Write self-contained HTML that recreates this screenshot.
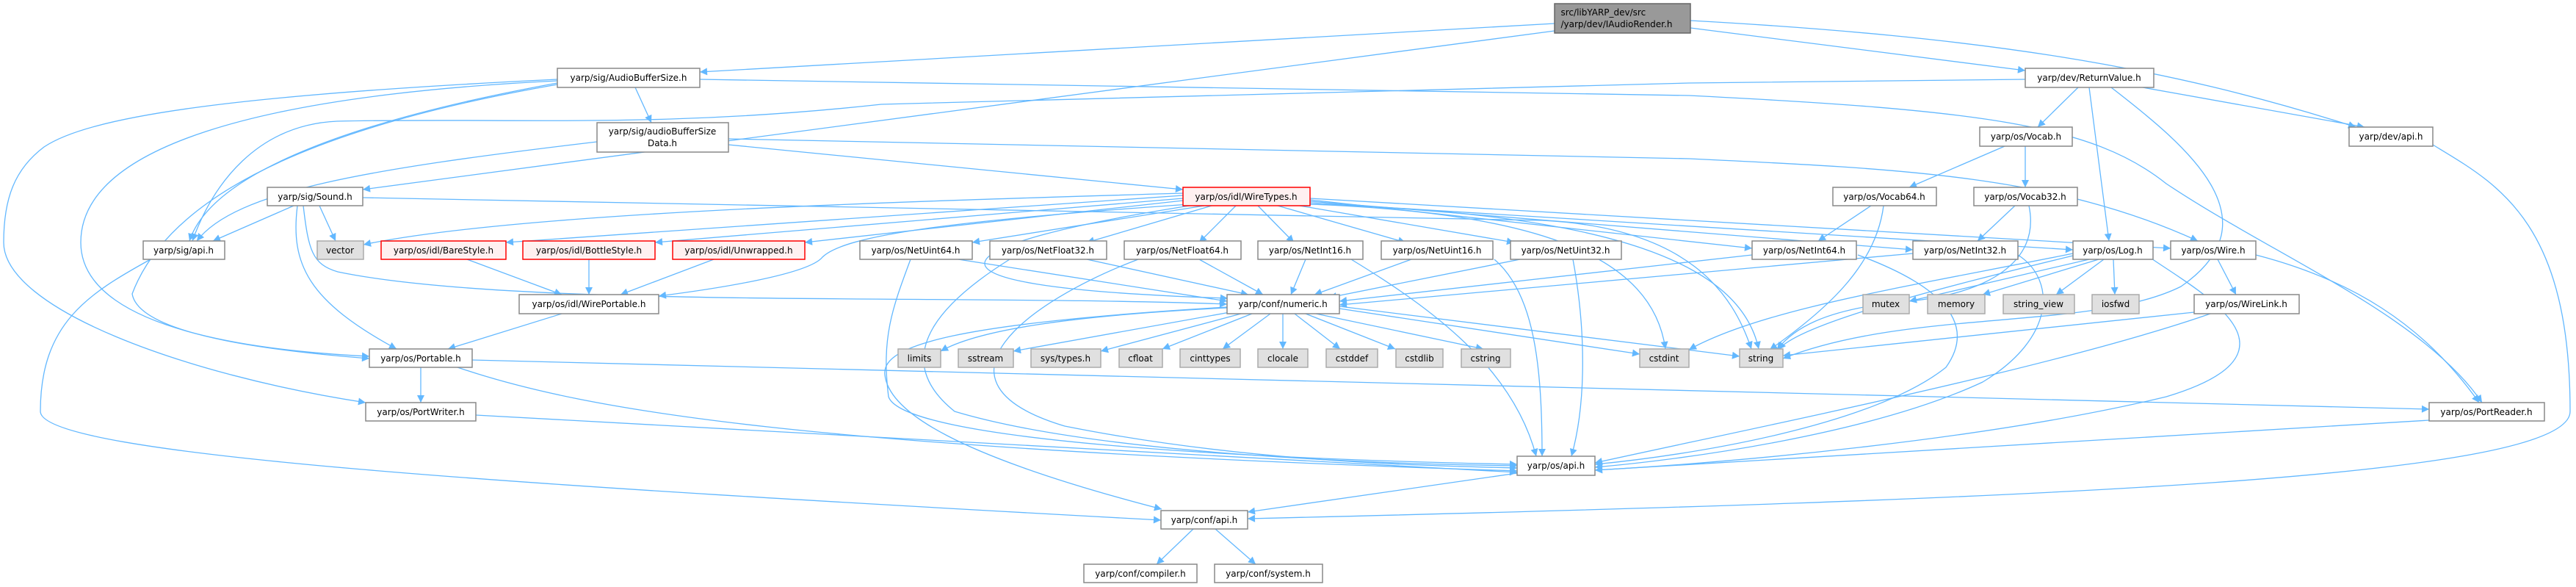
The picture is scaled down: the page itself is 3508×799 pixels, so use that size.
<!DOCTYPE html>
<html><head><meta charset="utf-8"><style>
html,body{margin:0;padding:0;background:#fff;}
svg{display:block;}
text{font-family:"DejaVu Sans","Liberation Sans",sans-serif;font-size:12px;fill:#000;}
.n{fill:#fff;stroke:#888;stroke-width:1.5;}
.g{fill:#e0e0e0;stroke:#aaa;stroke-width:1.5;}
.r{fill:#fff0f0;stroke:#f00;stroke-width:1.5;}
.root{fill:#999;stroke:#666;stroke-width:1.5;}
.e{fill:none;stroke:#63b8ff;stroke-width:1.3;marker-end:url(#a);}
</style></head><body>
<svg width="3508" height="799" viewBox="0 0 3508 799" xmlns="http://www.w3.org/2000/svg">
<defs><marker id="a" markerUnits="userSpaceOnUse" viewBox="0 0 10 10" refX="10" refY="5" markerWidth="12" markerHeight="10" orient="auto"><path d="M0,0 L10,5 L0,10 z" fill="#63b8ff"/></marker></defs>
<g>
<path class="e" d="M2117,32 L953,98"/>
<path class="e" d="M2117,42 L494,258"/>
<path class="e" d="M2302,38 L2758,96"/>
<path class="e" d="M2302,28 C2700,50 2950,90 3208,173"/>
<path class="e" d="M865,119 L887,167"/>
<path class="e" d="M759,113 C500,160 290,230 258,328"/>
<path class="e" d="M759,108 C300,130 120,160 60,200 C20,230 5,270 5,330 C5,420 250,510 498,548"/>
<path class="e" d="M759,110 C350,130 110,200 110,330 C110,460 400,480 503,485"/>
<path class="e" d="M759,115 C500,160 240,240 180,400 C190,460 400,480 503,488"/>
<path class="e" d="M205,353 C120,400 55,440 55,560 C55,620 700,660 1581,708"/>
<path class="e" d="M953,108 L2300,130 C2700,150 2850,170 2950,250 C3100,350 3300,430 3380,548"/>
<path class="e" d="M813,193 C500,230 320,260 268,328"/>
<path class="e" d="M992,197 L1611,258"/>
<path class="e" d="M992,189 L2300,216 C2600,230 2800,240 2993,328"/>
<path class="e" d="M2758,108 L2300,113 L1200,142 C900,175 700,160 459,165 C350,170 290,250 262,328"/>
<path class="e" d="M400,280 L290,328"/>
<path class="e" d="M435,280 L457,328"/>
<path class="e" d="M494,269 L2100,300 C2300,310 2360,400 2385,475"/>
<path class="e" d="M405,280 C395,360 420,410 540,475"/>
<path class="e" d="M413,280 C420,340 425,360 460,370 C700,420 1300,400 1671,414"/>
<path class="e" d="M1611,263 C1200,275 700,290 495,333"/>
<path class="e" d="M1611,266 L689,330"/>
<path class="e" d="M1611,270 L892,330"/>
<path class="e" d="M1611,273 L1096,330"/>
<path class="e" d="M1620,278 C1300,300 1150,320 1120,350 C1100,375 960,395 897,403"/>
<path class="e" d="M1640,280 L1324,330"/>
<path class="e" d="M1650,280 L1480,330"/>
<path class="e" d="M1683,280 L1633,330"/>
<path class="e" d="M1713,280 L1762,330"/>
<path class="e" d="M1740,280 L1914,330"/>
<path class="e" d="M1770,280 L2062,330"/>
<path class="e" d="M1784,272 L2386,338"/>
<path class="e" d="M1784,274 L2605,340"/>
<path class="e" d="M1784,276 L2823,340"/>
<path class="e" d="M1784,270 L2956,338"/>
<path class="e" d="M1784,278 C2100,290 2250,350 2268,475"/>
<path class="e" d="M1784,278 C2200,290 2370,360 2395,475"/>
<path class="e" d="M1620,280 C1300,330 1180,390 1672,406"/>
<path class="e" d="M1305,353 L1671,410"/>
<path class="e" d="M1240,353 C1215,420 1200,460 1210,540 C1230,600 1700,625 2066,632"/>
<path class="e" d="M1480,353 L1700,401"/>
<path class="e" d="M1375,353 C1300,400 1200,480 1300,560 C1500,620 1900,632 2066,634"/>
<path class="e" d="M1633,353 L1720,401"/>
<path class="e" d="M1550,353 C1400,410 1250,520 1450,580 C1700,630 1950,634 2066,637"/>
<path class="e" d="M1778,353 L1758,401"/>
<path class="e" d="M1840,353 C1950,420 2060,500 2092,621"/>
<path class="e" d="M1922,353 L1790,401"/>
<path class="e" d="M2035,353 C2090,400 2100,500 2100,621"/>
<path class="e" d="M2070,353 L1810,405"/>
<path class="e" d="M2142,353 C2160,450 2160,550 2140,621"/>
<path class="e" d="M2386,347 L1824,410"/>
<path class="e" d="M2530,347 C2620,380 2700,430 2650,500 C2550,580 2300,620 2172,632"/>
<path class="e" d="M2605,345 L1824,415"/>
<path class="e" d="M2748,347 C2800,380 2800,460 2700,520 C2550,590 2300,625 2172,636"/>
<path class="e" d="M2845,353 L2600,410"/>
<path class="e" d="M2858,353 L2700,401"/>
<path class="e" d="M2865,353 L2800,401"/>
<path class="e" d="M2878,353 L2880,401"/>
<path class="e" d="M2823,345 C2600,390 2400,420 2300,476"/>
<path class="e" d="M2823,348 C2650,390 2450,440 2422,476"/>
<path class="e" d="M2930,352 C3000,400 3150,480 2950,540 C2700,600 2350,630 2172,640"/>
<path class="e" d="M3020,353 L3045,401"/>
<path class="e" d="M3072,347 C3200,380 3300,440 3376,548"/>
<path class="e" d="M2988,425 L2428,484"/>
<path class="e" d="M3010,427 C2800,500 2400,580 2172,630"/>
<path class="e" d="M2730,199 L2600,255"/>
<path class="e" d="M2758,199 L2758,255"/>
<path class="e" d="M2548,280 L2476,328"/>
<path class="e" d="M2565,280 C2555,360 2490,420 2410,476"/>
<path class="e" d="M2744,280 L2693,328"/>
<path class="e" d="M2763,280 C2780,360 2700,400 2600,410 C2480,420 2440,450 2420,476"/>
<path class="e" d="M2830,119 L2775,173"/>
<path class="e" d="M2845,119 L2872,328"/>
<path class="e" d="M2918,119 L3220,173"/>
<path class="e" d="M2875,119 C2980,200 3100,300 2970,390 C2850,450 2600,420 2428,488"/>
<path class="e" d="M3313,197 C3400,250 3500,300 3500,560 C3500,650 2800,680 1699,706"/>
<path class="e" d="M573,500 L573,548"/>
<path class="e" d="M643,490 L3308,557"/>
<path class="e" d="M623,500 C800,560 1100,610 2066,641"/>
<path class="e" d="M648,565 L2066,643"/>
<path class="e" d="M3308,572 L2172,640"/>
<path class="e" d="M765,427 L610,475"/>
<path class="e" d="M636,353 L765,401"/>
<path class="e" d="M802,353 L802,401"/>
<path class="e" d="M972,353 L845,401"/>
<path class="e" d="M1671,419 C1450,430 1330,450 1281,478"/>
<path class="e" d="M1675,425 L1380,478"/>
<path class="e" d="M1690,427 L1499,478"/>
<path class="e" d="M1705,427 L1583,475"/>
<path class="e" d="M1730,427 L1665,475"/>
<path class="e" d="M1747,427 L1747,475"/>
<path class="e" d="M1763,427 L1825,475"/>
<path class="e" d="M1778,427 L1900,475"/>
<path class="e" d="M1792,427 L2020,475"/>
<path class="e" d="M1824,420 L2233,482"/>
<path class="e" d="M1824,417 L2369,485"/>
<path class="e" d="M1671,418 C1300,440 1200,470 1205,510 C1210,560 1300,620 1582,693"/>
<path class="e" d="M2066,644 L1699,697"/>
<path class="e" d="M1625,720 L1575,768"/>
<path class="e" d="M1655,720 L1710,768"/>
</g>
<g text-anchor="middle">
<rect class="root" x="2117" y="5" width="185" height="40"/><text x="2209.5" y="21" text-anchor="start" dx="-84">src/libYARP_dev/src</text><text x="2209.5" y="37" text-anchor="start" dx="-84">/yarp/dev/IAudioRender.h</text>
<rect class="n" x="759" y="93" width="194" height="26"/><text x="856" y="110">yarp/sig/AudioBufferSize.h</text>
<rect class="n" x="813" y="167" width="179" height="40"/><text x="902" y="183">yarp/sig/audioBufferSize</text><text x="902" y="199">Data.h</text>
<rect class="n" x="364" y="255" width="130" height="25"/><text x="429" y="272">yarp/sig/Sound.h</text>
<rect class="n" x="195" y="328" width="111" height="25"/><text x="250" y="345">yarp/sig/api.h</text>
<rect class="g" x="432" y="328" width="63" height="25"/><text x="463" y="345">vector</text>
<rect class="r" x="519" y="328" width="170" height="25"/><text x="604" y="345">yarp/os/idl/BareStyle.h</text>
<rect class="r" x="712" y="328" width="180" height="25"/><text x="802" y="345">yarp/os/idl/BottleStyle.h</text>
<rect class="r" x="916" y="328" width="180" height="25"/><text x="1006" y="345">yarp/os/idl/Unwrapped.h</text>
<rect class="r" x="1611" y="255" width="173" height="25"/><text x="1697" y="272">yarp/os/idl/WireTypes.h</text>
<rect class="n" x="1171" y="328" width="153" height="25"/><text x="1247" y="345">yarp/os/NetUint64.h</text>
<rect class="n" x="1348" y="328" width="159" height="25"/><text x="1427" y="345">yarp/os/NetFloat32.h</text>
<rect class="n" x="1531" y="328" width="159" height="25"/><text x="1610" y="345">yarp/os/NetFloat64.h</text>
<rect class="n" x="1713" y="328" width="143" height="25"/><text x="1784" y="345">yarp/os/NetInt16.h</text>
<rect class="n" x="1881" y="328" width="152" height="25"/><text x="1957" y="345">yarp/os/NetUint16.h</text>
<rect class="n" x="2057" y="328" width="151" height="25"/><text x="2132" y="345">yarp/os/NetUint32.h</text>
<rect class="n" x="2386" y="328" width="142" height="25"/><text x="2457" y="345">yarp/os/NetInt64.h</text>
<rect class="n" x="2605" y="328" width="143" height="25"/><text x="2676" y="345">yarp/os/NetInt32.h</text>
<rect class="n" x="2823" y="328" width="109" height="25"/><text x="2877" y="345">yarp/os/Log.h</text>
<rect class="n" x="2956" y="328" width="116" height="25"/><text x="3014" y="345">yarp/os/Wire.h</text>
<rect class="n" x="2758" y="93" width="175" height="26"/><text x="2845" y="110">yarp/dev/ReturnValue.h</text>
<rect class="n" x="2696" y="173" width="126" height="26"/><text x="2759" y="190">yarp/os/Vocab.h</text>
<rect class="n" x="3199" y="173" width="114" height="26"/><text x="3256" y="190">yarp/dev/api.h</text>
<rect class="n" x="2496" y="255" width="141" height="25"/><text x="2566" y="272">yarp/os/Vocab64.h</text>
<rect class="n" x="2688" y="255" width="141" height="25"/><text x="2758" y="272">yarp/os/Vocab32.h</text>
<rect class="n" x="707" y="401" width="190" height="26"/><text x="802" y="418">yarp/os/idl/WirePortable.h</text>
<rect class="n" x="503" y="475" width="140" height="25"/><text x="573" y="492">yarp/os/Portable.h</text>
<rect class="n" x="498" y="548" width="150" height="25"/><text x="573" y="565">yarp/os/PortWriter.h</text>
<rect class="n" x="1671" y="401" width="153" height="26"/><text x="1747" y="418">yarp/conf/numeric.h</text>
<rect class="g" x="1223" y="475" width="58" height="25"/><text x="1252" y="492">limits</text>
<rect class="g" x="1305" y="475" width="75" height="25"/><text x="1342" y="492">sstream</text>
<rect class="g" x="1404" y="475" width="95" height="25"/><text x="1451" y="492">sys/types.h</text>
<rect class="g" x="1524" y="475" width="59" height="25"/><text x="1553" y="492">cfloat</text>
<rect class="g" x="1607" y="475" width="82" height="25"/><text x="1648" y="492">cinttypes</text>
<rect class="g" x="1713" y="475" width="68" height="25"/><text x="1747" y="492">clocale</text>
<rect class="g" x="1806" y="475" width="70" height="25"/><text x="1841" y="492">cstddef</text>
<rect class="g" x="1901" y="475" width="64" height="25"/><text x="1933" y="492">cstdlib</text>
<rect class="g" x="1990" y="475" width="67" height="25"/><text x="2023" y="492">cstring</text>
<rect class="g" x="2233" y="475" width="67" height="25"/><text x="2266" y="492">cstdint</text>
<rect class="g" x="2369" y="475" width="59" height="25"/><text x="2398" y="492">string</text>
<rect class="g" x="2537" y="401" width="63" height="26"/><text x="2568" y="418">mutex</text>
<rect class="g" x="2625" y="401" width="78" height="26"/><text x="2664" y="418">memory</text>
<rect class="g" x="2728" y="401" width="97" height="26"/><text x="2776" y="418">string_view</text>
<rect class="g" x="2849" y="401" width="64" height="26"/><text x="2881" y="418">iosfwd</text>
<rect class="n" x="2988" y="401" width="143" height="26"/><text x="3059" y="418">yarp/os/WireLink.h</text>
<rect class="n" x="3308" y="548" width="157" height="25"/><text x="3386" y="565">yarp/os/PortReader.h</text>
<rect class="n" x="2066" y="621" width="106" height="26"/><text x="2119" y="638">yarp/os/api.h</text>
<rect class="n" x="1581" y="695" width="118" height="25"/><text x="1640" y="712">yarp/conf/api.h</text>
<rect class="n" x="1476" y="768" width="154" height="25"/><text x="1553" y="785">yarp/conf/compiler.h</text>
<rect class="n" x="1654" y="768" width="147" height="25"/><text x="1727" y="785">yarp/conf/system.h</text>
</g>
</svg>
</body></html>
